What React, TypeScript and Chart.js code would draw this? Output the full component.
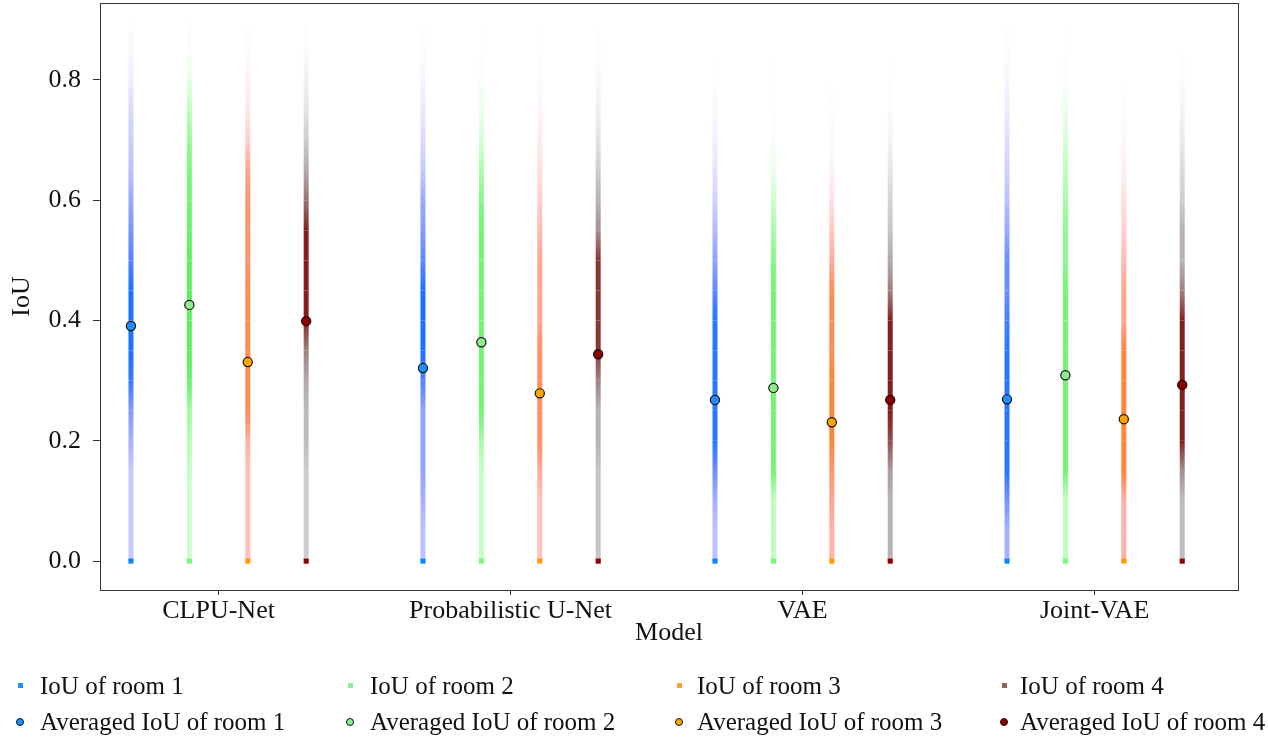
import React, { useEffect, useRef } from "react";
import { Chart, registerables } from "chart.js";

Chart.register(...registerables);

const models = ["CLPU-Net", "Probabilistic U-Net", "VAE", "Joint-VAE"];
const roomOffsets = [-0.3, -0.1, 0.1, 0.3];
const yTicks = [0, 0.2, 0.4, 0.6, 0.8];
const binEdges = [0, 0.05, 0.1, 0.15, 0.2, 0.25, 0.3, 0.35, 0.4, 0.45, 0.5, 0.55, 0.6, 0.65, 0.7, 0.75, 0.8, 0.85, 0.9];

// averaged IoU per model
const meanRoom1 = [0.391, 0.321, 0.268, 0.269];
const meanRoom2 = [0.426, 0.364, 0.288, 0.309];
const meanRoom3 = [0.331, 0.279, 0.231, 0.236];
const meanRoom4 = [0.399, 0.344, 0.268, 0.293];

// relative density of per-sample IoU values at each 0.05 level (per model)
const densityRoom1 = [
  [0.3, 0.3, 0.3, 0.3, 0.45, 0.6, 0.9, 1, 1, 1, 0.8, 0.65, 0.5, 0.35, 0.28, 0.2, 0.1, 0.04],
  [0.35, 0.35, 0.45, 0.55, 0.55, 0.55, 0.8, 1, 1, 1, 0.75, 0.6, 0.5, 0.3, 0.2, 0.12, 0.06, 0.02],
  [0.35, 0.35, 0.45, 0.7, 0.95, 0.95, 0.95, 0.95, 0.95, 0.75, 0.55, 0.4, 0.25, 0.15, 0.08, 0.03, 0.01, 0],
  [0.45, 0.45, 0.65, 0.95, 0.95, 0.95, 0.95, 0.95, 0.85, 0.7, 0.7, 0.5, 0.35, 0.25, 0.18, 0.1, 0.05, 0.02],
];
const densityRoom2 = [
  [0.35, 0.35, 0.35, 0.4, 0.5, 0.65, 0.95, 1, 1, 1, 1, 0.95, 0.9, 0.85, 0.7, 0.45, 0.2, 0.05],
  [0.4, 0.4, 0.4, 0.4, 0.6, 0.9, 0.9, 0.9, 0.9, 0.9, 0.9, 0.9, 0.8, 0.55, 0.3, 0.15, 0.07, 0.02],
  [0.45, 0.45, 0.45, 0.9, 0.9, 0.9, 0.9, 0.9, 0.9, 0.9, 0.8, 0.6, 0.35, 0.15, 0.07, 0.03, 0.01, 0],
  [0.45, 0.45, 0.45, 0.9, 0.9, 0.9, 0.9, 0.9, 0.9, 0.9, 0.75, 0.75, 0.6, 0.45, 0.3, 0.15, 0.06, 0.02],
];
const densityRoom3 = [
  [0.4, 0.4, 0.4, 0.4, 0.5, 0.85, 0.85, 0.85, 0.85, 0.85, 0.75, 0.75, 0.75, 0.6, 0.3, 0.15, 0.08, 0.03],
  [0.4, 0.4, 0.4, 0.55, 0.8, 0.8, 0.8, 0.8, 0.6, 0.6, 0.6, 0.45, 0.3, 0.2, 0.12, 0.06, 0.03, 0.01],
  [0.5, 0.5, 0.6, 0.75, 0.95, 0.95, 0.95, 0.85, 0.85, 0.85, 0.55, 0.35, 0.18, 0.08, 0.04, 0.02, 0, 0],
  [0.5, 0.5, 0.5, 0.95, 0.95, 0.95, 0.95, 0.95, 0.6, 0.6, 0.45, 0.3, 0.2, 0.1, 0.05, 0.02, 0, 0],
];
const densityRoom4 = [
  [0.35, 0.35, 0.35, 0.35, 0.45, 0.45, 0.55, 0.7, 0.95, 0.95, 0.95, 0.95, 0.75, 0.55, 0.35, 0.2, 0.1, 0.03],
  [0.4, 0.4, 0.4, 0.4, 0.5, 0.5, 0.7, 0.9, 0.9, 0.9, 0.9, 0.65, 0.5, 0.35, 0.2, 0.1, 0.05, 0.02],
  [0.5, 0.5, 0.5, 0.6, 0.85, 0.95, 0.95, 0.95, 0.95, 0.7, 0.55, 0.4, 0.3, 0.18, 0.08, 0.03, 0.01, 0],
  [0.45, 0.45, 0.45, 0.65, 0.95, 0.95, 0.95, 0.95, 0.95, 0.7, 0.5, 0.5, 0.35, 0.25, 0.15, 0.08, 0.03, 0],
];

const stripLabels = ["IoU of room 1", "IoU of room 2", "IoU of room 3", "IoU of room 4"];
const meanLabels = ["Averaged IoU of room 1", "Averaged IoU of room 2", "Averaged IoU of room 3", "Averaged IoU of room 4"];

const means = [meanRoom1, meanRoom2, meanRoom3, meanRoom4];
const densities = [densityRoom1, densityRoom2, densityRoom3, densityRoom4];

const lowColors = [[70, 70, 255], [120, 255, 120], [255, 90, 90], [115, 115, 115]];
const highColors = [[25, 115, 255], [95, 240, 95], [255, 130, 40], [130, 0, 0]];
const mixPower = [1.6, 1.6, 1.8, 3];
const baseColors = ["#0a84ff", "#7cf57c", "#ff9a00", "#8b0000"];
const legendSquare = ["#1f8fff", "#8ef08e", "#ffa033", "#9a5a5a"];
const meanColors = ["#1e8fff", "#90ee90", "#ffa500", "#8b0000"];

const FONT = "'Liberation Serif', 'Times New Roman', serif";

function densColor(room: number, d: number) {
  if (!d) return "rgba(0,0,0,0)";
  const t = Math.pow(d, mixPower[room]);
  const lo = lowColors[room], hi = highColors[room];
  const c = lo.map((v, i) => Math.round(v + (hi[i] - v) * t));
  return `rgba(${c[0]},${c[1]},${c[2]},${Math.min(1, d)})`;
}

const framePlugin = {
  id: "frame",
  afterDraw(chart: any) {
    const { ctx, chartArea } = chart;
    ctx.save();
    ctx.strokeStyle = "#333";
    ctx.lineWidth = 1;
    ctx.strokeRect(Math.round(chartArea.left) + 0.5, Math.round(chartArea.top) + 0.5, Math.round(chartArea.right - chartArea.left), Math.round(chartArea.bottom - chartArea.top));
    ctx.restore();
  },
};

export default function App() {
  const ref = useRef<HTMLCanvasElement | null>(null);

  useEffect(() => {
    if (!ref.current) return;
    const datasets: any[] = [];
    for (let r = 0; r < 4; r++) {
      const data: any[] = [];
      const colors: string[] = [];
      for (let m = 0; m < 4; m++) {
        const x = m + roomOffsets[r];
        for (let k = 0; k < binEdges.length; k++) {
          data.push({ x, y: binEdges[k] });
          colors.push(k < densities[r][m].length ? densColor(r, densities[r][m][k]) : "rgba(0,0,0,0)");
        }
        data.push({ x, y: null });
        colors.push("rgba(0,0,0,0)");
      }
      datasets.push({
        type: "line",
        label: stripLabels[r],
        data,
        order: 1,
        borderWidth: 5,
        borderCapStyle: "butt",
        borderColor: baseColors[r],
        tension: 0,
        fill: false,
        spanGaps: false,
        segment: {
          borderColor: (sc: any) => {
            const g = sc.chart.ctx.createLinearGradient(0, sc.p0.y, 0, sc.p1.y);
            g.addColorStop(0, colors[sc.p0DataIndex]);
            g.addColorStop(1, colors[sc.p1DataIndex]);
            return g;
          },
        },
        pointStyle: "rect",
        pointRadius: (ctx: any) => (ctx.raw && ctx.raw.y === 0 ? 3.6 : 0),
        pointBorderWidth: 0,
        pointBackgroundColor: baseColors[r],
        pointHoverRadius: 0,
      });
    }
    for (let r = 0; r < 4; r++) {
      datasets.push({
        type: "scatter",
        label: meanLabels[r],
        data: means[r].map((v, m) => ({ x: m + roomOffsets[r], y: v })),
        order: 0,
        pointRadius: 4.6,
        pointBorderWidth: 1.2,
        pointBorderColor: "#111",
        pointBackgroundColor: meanColors[r],
        showLine: false,
      });
    }

    const chart = new Chart(ref.current, {
      type: "scatter",
      data: { datasets },
      plugins: [framePlugin],
      options: {
        animation: false,
        responsive: false,
        devicePixelRatio: 1,
        layout: { autoPadding: false, padding: { left: 0, right: 30, top: 3, bottom: 88 } },
        plugins: { legend: { display: false }, tooltip: { enabled: false } },
        scales: {
          x: {
            type: "linear",
            min: -0.406,
            max: 3.491,
            afterFit: (s: any) => { s.height = 62; s.paddingLeft = 0; s.paddingRight = 0; },
            afterBuildTicks: (s: any) => { s.ticks = models.map((_, i) => ({ value: i })); },
            ticks: {
              callback: (v: any) => models[v] ?? "",
              font: { family: FONT, size: 26 },
              color: "#111",
              padding: 1,
              maxRotation: 0,
              autoSkip: false,
            },
            grid: { display: true, drawOnChartArea: false, drawTicks: true, tickLength: 5, color: "#333" },
            border: { display: false },
            title: { display: true, text: "Model", font: { family: FONT, size: 26 }, color: "#111", padding: { top: 0, bottom: 3 } },
          },
          y: {
            type: "linear",
            min: -0.048,
            max: 0.928,
            afterFit: (s: any) => { s.width = 100; s.paddingTop = 0; s.paddingBottom = 0; },
            afterBuildTicks: (s: any) => { s.ticks = yTicks.map((v) => ({ value: v })); },
            ticks: {
              callback: (v: any) => Number(v).toFixed(1),
              font: { family: FONT, size: 26 },
              color: "#111",
              padding: 12,
            },
            grid: { display: true, drawOnChartArea: false, drawTicks: true, tickLength: 7, color: "#333" },
            border: { display: false },
            title: { display: true, text: "IoU", font: { family: FONT, size: 26 }, color: "#111", padding: { top: 7, bottom: 0 } },
          },
        },
      } as any,
    });
    return () => chart.destroy();
  }, []);

  const colText = [40, 370, 697, 1020];
  const colMark = [20, 350, 679, 1004];
  const rowY = [686, 722];

  return (
    <div style={{ position: "fixed", left: 0, top: 0, width: 1268, height: 740, background: "#fff" }}>
      <canvas ref={ref} width={1268} height={740} style={{ position: "absolute", left: 0, top: 0, width: 1268, height: 740 }} />
      {stripLabels.map((lab, r) => (
        <React.Fragment key={"s" + r}>
          <div style={{ position: "absolute", left: colMark[r] - 2.5, top: rowY[0] - 3, width: 5, height: 5, background: legendSquare[r] }} />
          <div style={{ position: "absolute", left: colText[r], top: rowY[0] - 15, fontFamily: FONT, fontSize: 25, lineHeight: "30px", color: "#111", whiteSpace: "nowrap" }}>{lab}</div>
        </React.Fragment>
      ))}
      {meanLabels.map((lab, r) => (
        <React.Fragment key={"m" + r}>
          <div style={{ position: "absolute", left: colMark[r] - 4, top: rowY[1] - 4, width: 6, height: 6, borderRadius: "50%", border: "1.2px solid #111", background: meanColors[r] }} />
          <div style={{ position: "absolute", left: colText[r], top: rowY[1] - 15, fontFamily: FONT, fontSize: 25, lineHeight: "30px", color: "#111", whiteSpace: "nowrap" }}>{lab}</div>
        </React.Fragment>
      ))}
    </div>
  );
}
